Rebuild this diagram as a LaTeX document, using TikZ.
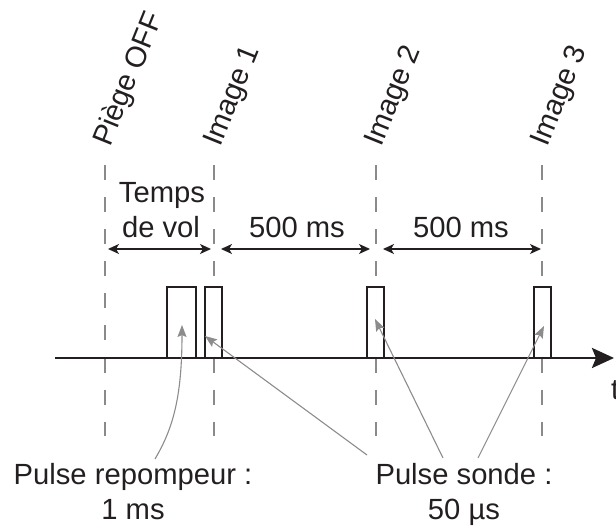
\documentclass[tikz,border=0pt]{standalone}
\usepackage{fontspec}
\setmainfont{Liberation Sans}
\usetikzlibrary{arrows.meta,calc}
\definecolor{ink}{HTML}{231F20}
\definecolor{dgray}{HTML}{8A8A8A}
\definecolor{agray}{HTML}{8C8C8C}
\begin{document}
\begin{tikzpicture}[x=1pt,y=-1pt,
  guide/.style={draw=dgray, line width=2.6pt, dash pattern=on 15pt off 17.1pt},
  pulse/.style={draw=ink, fill=white, line width=2.8pt, inner sep=0pt, outer sep=0pt, anchor=south west},
  pointer/.style={draw=agray, line width=1.1pt, -{Stealth[length=12pt,width=9pt,inset=2pt]}},
  span/.style={draw=ink, line width=1.4pt, {Stealth[length=11pt,width=10pt,inset=3pt]}-{Stealth[length=11pt,width=10pt,inset=3pt]}},
  lbl/.style={font=\fontsize{29.2}{34}\selectfont, text=ink, inner sep=0pt, anchor=base},
  rlbl/.style={lbl, anchor=base west, rotate=68}]
\useasboundingbox (0,0) rectangle (616,526);
% guide lines
\foreach \n/\x in {0/105,1/214,2/376,3/542}{
  \coordinate (g\n t) at (\x,165);
  \coordinate (g\n b) at (\x,436);
  \draw[guide] (g\n t) -- (g\n b);
}
% time axis
\coordinate (ax0) at (55,358);
\coordinate (ax1) at (614,358);
\draw[draw=ink, line width=2.8pt, -{Stealth[length=22pt,width=20pt,inset=4pt]}] (ax0) -- (ax1);
\node[lbl, anchor=base west] (t) at (611,400) {t};
% pulses
\node[pulse, minimum width=29pt, minimum height=71pt] (rp) at (167,358) {};
\node[pulse, minimum width=17pt, minimum height=71pt] (p1) at (205,358) {};
\node[pulse, minimum width=17pt, minimum height=71pt] (p2) at (367,358) {};
\node[pulse, minimum width=17pt, minimum height=71pt] (p3) at (534,358) {};
% labels on top
\node[rlbl] (lp) at (110,148) {Piège OFF};
\node[rlbl] (l1) at (220,148) {Image 1};
\node[rlbl] (l2) at (381,148) {Image 2};
\node[rlbl] (l3) at (547,148) {Image 3};
% spans
\coordinate (s0a) at (108,249); \coordinate (s0b) at (211,249);
\coordinate (s1a) at (221,249); \coordinate (s1b) at (370,249);
\coordinate (s2a) at (383,249); \coordinate (s2b) at (541,249);
\draw[span] (s0a) -- (s0b);
\draw[span] (s1a) -- (s1b);
\draw[span] (s2a) -- (s2b);
\node[lbl] (tv1) at (162,203) {Temps};
\node[lbl] (tv2) at (161,238) {de vol};
\node[lbl] (d1) at (297,238) {500 ms};
\node[lbl] (d2) at (461,238) {500 ms};
% bottom labels
\node[lbl] (rep1) at (133,485) {Pulse repompeur :};
\node[lbl] (rep2) at (133,519) {1 ms};
\node[lbl] (son1) at (464,485) {Pulse sonde :};
\node[lbl] (son2) at (464,519) {50 µs};
% pointers
\coordinate (rs) at (155,459);
\coordinate (rt) at (182,325);
\coordinate (a1s) at (367,455); \coordinate (a1t) at (205,336);
\coordinate (a2s) at (443,458); \coordinate (a2t) at (375,319);
\coordinate (a3s) at (478,458); \coordinate (a3t) at (544,326);
\draw[pointer] (rs) .. controls (172,430) and (182,400) .. (rt);
\draw[pointer] (a1s) -- (a1t);
\draw[pointer] (a2s) -- (a2t);
\draw[pointer] (a3s) -- (a3t);
\end{tikzpicture}
\end{document}
